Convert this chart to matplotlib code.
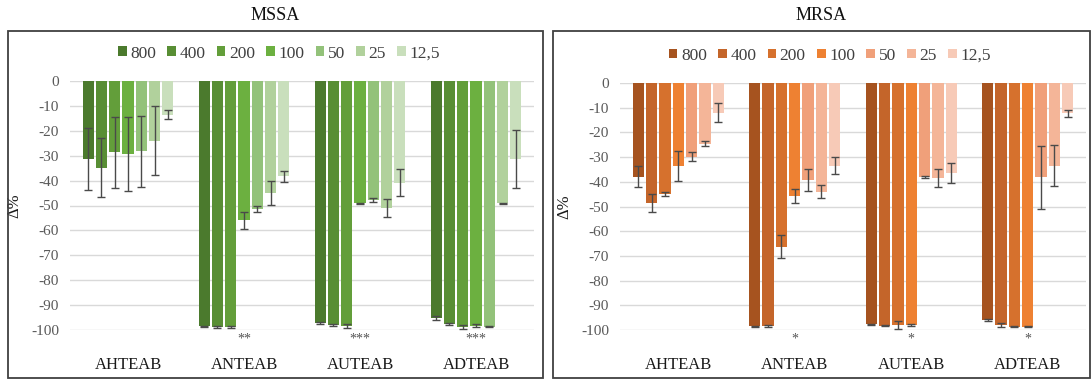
import numpy as np
import matplotlib
matplotlib.use("Agg")
import matplotlib.pyplot as plt
from matplotlib.patches import Rectangle
from matplotlib.transforms import blended_transform_factory

categories = ["AHTEAB", "ANTEAB", "AUTEAB", "ADTEAB"]
concentrations = ["800", "400", "200", "100", "50", "25", "12,5"]

# MSSA values (rows = concentrations, cols = categories)
mssa_800 = [-31.4, -98.5, -97.2, -95.3]
mssa_400 = [-34.8, -98.7, -98.0, -97.6]
mssa_200 = [-28.7, -98.7, -98.2, -98.6]
mssa_100 = [-29.4, -56.0, -49.1, -98.2]
mssa_50 = [-28.3, -51.3, -47.8, -98.6]
mssa_25 = [-23.9, -45.0, -51.1, -49.1]
mssa_12 = [-13.5, -38.3, -40.8, -31.4]
mssa_err_800 = [12.5, 0.3, 0.3, 0.8]
mssa_err_400 = [11.8, 0.3, 0.5, 0.4]
mssa_err_200 = [14.2, 0.3, 0.8, 0.8]
mssa_err_100 = [14.8, 3.5, 0.3, 0.7]
mssa_err_50 = [14.4, 1.2, 0.9, 0.3]
mssa_err_25 = [14.0, 4.8, 3.7, 0.3]
mssa_err_12 = [1.8, 2.2, 5.3, 11.7]
mssa_stars = ["", "**", "***", "***"]

# MRSA values
mrsa_800 = [-37.9, -98.5, -97.7, -96.0]
mrsa_400 = [-48.7, -98.4, -98.2, -98.0]
mrsa_200 = [-44.9, -66.3, -98.0, -98.6]
mrsa_100 = [-33.5, -45.6, -98.0, -98.6]
mrsa_50 = [-29.8, -39.3, -38.2, -38.2]
mrsa_25 = [-24.5, -44.0, -38.6, -33.5]
mrsa_12 = [-12.0, -33.5, -36.3, -12.2]
mrsa_err_800 = [4.4, 0.2, 0.3, 0.3]
mrsa_err_400 = [3.6, 0.3, 0.3, 0.7]
mrsa_err_200 = [0.8, 4.7, 1.7, 0.3]
mrsa_err_100 = [6.1, 2.8, 0.5, 0.3]
mrsa_err_50 = [1.8, 4.4, 0.4, 12.8]
mrsa_err_25 = [1.2, 2.7, 3.6, 8.3]
mrsa_err_12 = [3.9, 3.5, 4.0, 1.4]
mrsa_stars = ["", "*", "*", "*"]

mssa_colors = ["#4b7a2d", "#588e34", "#639e3a", "#6cb040", "#93c27a", "#b1d19c", "#c9dfbc"]
mrsa_colors = ["#a6531f", "#c4652a", "#d6712d", "#ee8132", "#f0a07a", "#f4b598", "#f7cab7"]

serif = ["Liberation Serif", "DejaVu Serif"]
plt.rcParams["font.family"] = serif

W, H = 1091, 381
fig = plt.figure(figsize=(W / 100, H / 100), dpi=100)


def px_axes(x0, y_top, x1, y_bot):
    return [x0 / W, 1 - y_bot / H, (x1 - x0) / W, (y_bot - y_top) / H]


def panel(rect, box, title, vals, errs, colors, stars):
    bx0, by0, bx1, by1 = box
    fig.patches.append(Rectangle((bx0 / W, 1 - by1 / H), (bx1 - bx0) / W, (by1 - by0) / H,
                                 transform=fig.transFigure, fill=False,
                                 edgecolor="#404040", linewidth=1.3))
    fig.text((bx0 + bx1) / 2 / W, 1 - 16 / H, title, ha="center", va="center",
             fontsize=13, color="#111111")
    ax = fig.add_axes(rect)
    x = np.arange(len(categories))
    n = len(vals)
    slot = 0.8 / n
    bw = slot * 0.85
    for i in range(n):
        ax.bar(x + (i - (n - 1) / 2) * slot, vals[i], bw, color=colors[i],
               yerr=errs[i], error_kw=dict(ecolor="#4a4a4a", elinewidth=1, capsize=3, capthick=1),
               label=concentrations[i], zorder=3)
    ax.set_ylim(-100, 0)
    ax.set_xlim(-0.5, len(categories) - 0.5)
    ax.set_yticks(np.arange(-100, 1, 10))
    ax.set_yticklabels([str(v) for v in range(-100, 1, 10)])
    ax.yaxis.grid(True, color="#d9d9d9", linewidth=1, zorder=0)
    ax.set_axisbelow(True)
    for s in ax.spines.values():
        s.set_visible(False)
    ax.tick_params(axis="y", length=0, labelsize=11, labelcolor="#595959", pad=8)
    ax.set_xticks([])
    tr = blended_transform_factory(ax.transData, ax.transAxes)
    axh = rect[3] * H
    for j, c in enumerate(categories):
        ax.text(x[j], -35 / axh, c, transform=tr, ha="center", va="center",
                fontsize=12, color="#1a1a1a", clip_on=False)
        if stars[j]:
            ax.text(x[j], -9 / axh, stars[j], transform=tr, ha="center", va="center",
                    fontsize=10, color="#555555", clip_on=False)
    ax.set_ylabel("Δ%", fontsize=12, color="#1a1a1a", labelpad=6)
    leg = ax.legend(ncol=n, loc="lower center", bbox_to_anchor=(0.45, 1.05), frameon=False,
                    fontsize=12.5, handlelength=0.5, handleheight=0.5, handletextpad=0.2,
                    columnspacing=0.65, borderaxespad=0)
    for t in leg.get_texts():
        t.set_color("#404040")
    return ax


mssa_vals = [mssa_800, mssa_400, mssa_200, mssa_100, mssa_50, mssa_25, mssa_12]
mssa_errs = [mssa_err_800, mssa_err_400, mssa_err_200, mssa_err_100, mssa_err_50, mssa_err_25, mssa_err_12]
mrsa_vals = [mrsa_800, mrsa_400, mrsa_200, mrsa_100, mrsa_50, mrsa_25, mrsa_12]
mrsa_errs = [mrsa_err_800, mrsa_err_400, mrsa_err_200, mrsa_err_100, mrsa_err_50, mrsa_err_25, mrsa_err_12]

panel(px_axes(70, 81, 534, 330), (8, 31, 543, 378), "MSSA", mssa_vals, mssa_errs, mssa_colors, mssa_stars)
panel(px_axes(620, 83, 1086, 330), (553, 31, 1090, 378), "MRSA", mrsa_vals, mrsa_errs, mrsa_colors, mrsa_stars)

fig.savefig("out.png", dpi=100)
